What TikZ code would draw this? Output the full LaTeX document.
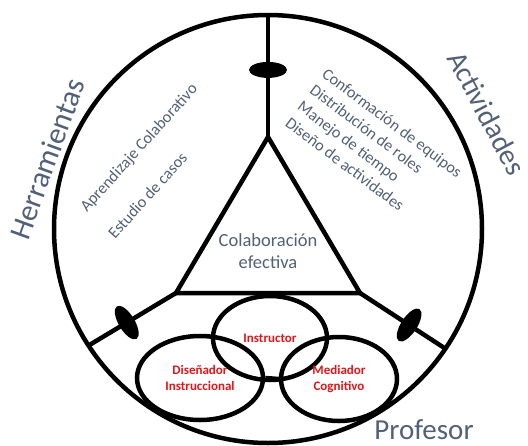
\documentclass[tikz,border=0pt]{standalone}
\usepackage{fontspec}
\setmainfont{Carlito}
\usetikzlibrary{shapes.geometric}
\definecolor{labelgray}{RGB}{82,96,120}
\definecolor{rolered}{RGB}{228,20,24}
\begin{document}
\begin{tikzpicture}[x=1pt,y=-1pt,
  bold line/.style={line width=4.5pt},
  hub/.style={fill=black, ellipse, minimum width=16pt, minimum height=38pt,
    inner sep=0pt, sloped},
  role/.style={draw, ellipse, line width=4.5pt, text=rolered, align=center,
    inner sep=0pt, font=\bfseries\fontsize{13}{16}\selectfont},
  biglabel/.style={text=labelgray, inner sep=0pt, font=\fontsize{29}{34}\selectfont},
  itemlabel/.style={text=labelgray, inner sep=0pt, anchor=base west,
    font=\fontsize{16.3}{20}\selectfont},
]
\useasboundingbox (0,0) rectangle (528,445);

% outer ring
\node[draw, circle, bold line, minimum size=428pt, outer sep=0pt, inner sep=0pt]
  (outer) at (268,229) {};

% central triangle
\coordinate (apex) at (268,137);
\coordinate (bl) at (176,293);
\coordinate (br) at (360,293);
\draw[bold line] (apex) -- (bl) -- (br) -- cycle;

% spokes with their hubs
\draw[bold line] (outer.north) -- node[hub, pos=0.45] (h1) {} (apex);
\draw[bold line] (bl) -- node[hub, pos=0.563] (h2) {} (outer.213.5);
\draw[bold line] (br) -- node[hub, pos=0.575] (h3) {} (outer.326.4);

\node[text=labelgray, align=center, inner sep=0pt,
  font=\fontsize{18.5}{22}\selectfont] (goal) at (268,251) {Colaboración\\efectiva};

% teacher roles
\node[role, minimum width=114pt, minimum height=84pt] (instr) at (270,338) {Instructor};
\node[role, minimum width=126pt, minimum height=84pt] (dis) at (200,378) {Diseñador\\Instruccional};
\node[role, minimum width=116pt, minimum height=84pt] (med) at (339,379) {Mediador\\Cognitivo};
\draw[bold line] (dis.east) -- (med.west);

% sector titles
\node[biglabel, rotate=70, font=\fontsize{30.5}{34}\selectfont] (herr) at (47,159) {Herramientas};
\node[biglabel, rotate=-62] (act) at (487,113) {Actividades};
\node[biglabel, anchor=base] (prof) at (424,439) {Profesor};

% tools
\node[itemlabel, rotate=48] (t1) at (87,213) {Aprendizaje Colaborativo};
\node[itemlabel, rotate=48] (t2) at (115,240) {Estudio de casos};

% activities
\node[itemlabel, rotate=-37] (a1) at (321,76) {Conformación de equipos};
\node[itemlabel, rotate=-37] (a2) at (308.7,92.4) {Distribución de roles};
\node[itemlabel, rotate=-37] (a3) at (296.4,108.8) {Manejo de tiempo};
\node[itemlabel, rotate=-37] (a4) at (284.1,125.2) {Diseño de actividades};
\end{tikzpicture}
\end{document}
